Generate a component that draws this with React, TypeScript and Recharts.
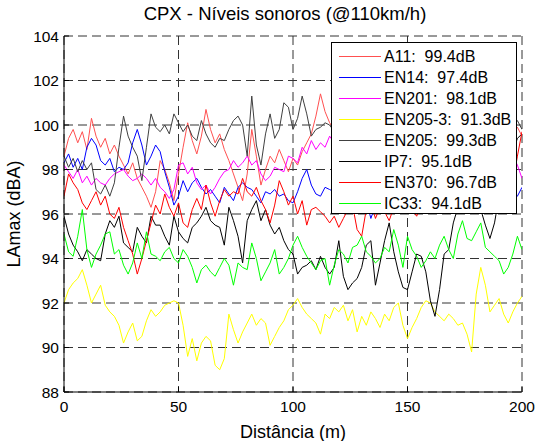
import React from 'react';
import { LineChart, Line, XAxis, YAxis, CartesianGrid, Legend, Label } from 'recharts';

// Distance along the track (m), one reading every 2 m
const distance: number[] = Array.from({ length: 101 }, (_, i) => i * 2);

const seriesNames = ['A11', 'EN14', 'EN201', 'EN205-3', 'EN205', 'IP7', 'EN370', 'IC33'];
const legendLevels = ['99.4', '97.4', '98.1', '91.3', '99.3', '95.1', '96.7', '94.1'];
const seriesColors = ['#ff5050', '#0000ff', '#ff00ff', '#ffff00', '#404040', '#000000', '#ff0000', '#00ff00'];

const xTicks = [0, 50, 100, 150, 200];
const yTicks = [88, 90, 92, 94, 96, 98, 100, 102, 104];

const a11 = [
  98.6, 99.4, 99.8, 99.2, 99.7, 98.9, 100.3, 99.5, 99.0, 99.4,
  98.7, 99.1, 98.6, 98.2, 97.8, 98.3, 97.6, 97.2, 96.8, 96.3,
  97.0, 98.4, 98.0, 97.4, 96.6, 97.8, 99.0, 100.1, 99.3, 98.7,
  99.5, 100.7, 99.8, 99.2, 99.6, 98.9, 98.4, 97.8, 97.2, 96.6,
  97.8, 99.8, 98.6, 97.3, 98.0, 98.6, 98.3, 98.9, 98.4, 97.9,
  98.5, 98.2, 98.8, 99.2, 99.6, 100.4, 101.4, 100.6, 100.1, 99.8,
  99.3, 98.9, 99.4, 98.7, 99.1, 99.6, 98.8, 98.4, 99.0, 99.5,
  99.2, 98.6, 98.9, 99.3, 98.8, 99.4, 99.0, 98.5, 98.9, 99.3,
  99.7, 99.1, 98.7, 99.2, 98.9, 99.4, 99.0, 98.6, 99.1, 99.5,
  99.2, 98.8, 99.3, 99.6, 99.1, 98.7, 99.0, 99.4, 99.6, 99.9,
  99.5,
];

const en14 = [
  98.3, 98.7, 98.1, 98.5, 98.0, 99.0, 99.4, 99.1, 98.4, 98.2,
  98.5, 97.9, 98.1, 98.0, 98.3, 99.2, 99.8, 99.1, 98.2, 98.6,
  99.1, 98.8, 97.9, 97.2, 96.4, 96.8, 97.5, 97.0, 97.4, 97.6,
  97.2, 96.9, 97.1, 96.8, 96.5, 97.2, 96.9, 96.6, 97.2, 97.4,
  97.2, 97.1, 96.8, 96.5, 97.0, 96.9, 97.1, 96.8, 96.9, 96.6,
  96.5, 97.0, 97.6, 98.0, 97.3, 96.9, 96.8, 97.2, 97.1, 97.0,
  96.7, 97.2, 96.9, 96.5, 96.8, 97.3, 96.6, 95.8, 96.4, 96.9,
  97.2, 96.8, 97.4, 97.1, 96.7, 97.0, 97.5, 97.2, 96.8, 97.1,
  96.9, 97.3, 97.0, 96.6, 96.9, 97.4, 97.1, 96.8, 97.2, 96.9,
  97.3, 97.0, 96.7, 97.1, 97.5, 97.2, 96.9, 97.3, 97.0, 96.8,
  97.2,
];

const en201 = [
  98.2, 97.9, 97.6, 98.0, 97.4, 97.7, 97.3, 97.6, 97.4, 97.3,
  97.6, 97.8, 97.9, 98.0, 97.7, 97.5, 97.6, 97.8, 97.6, 97.3,
  97.6, 97.2, 97.0, 96.7, 97.1, 98.2, 98.3, 97.8, 98.1, 97.4,
  97.1, 97.3, 96.9, 97.2, 97.6, 97.9, 98.0, 98.4, 98.1, 98.3,
  98.6, 98.2, 98.4, 97.8, 97.5, 97.7, 98.1, 98.0, 97.9, 98.6,
  98.5, 98.3, 99.0, 98.7, 99.3, 98.9, 99.2, 99.0, 99.5, 99.2,
  98.8, 99.1, 98.6, 98.9, 99.3, 98.7, 98.4, 98.8, 99.0, 98.6,
  98.3, 98.7, 99.0, 98.5, 98.8, 98.4, 98.1, 98.6, 98.9, 98.5,
  98.2, 98.6, 98.3, 98.7, 98.9, 98.4, 98.0, 98.5, 98.8, 98.3,
  98.6, 98.2, 98.5, 98.9, 98.4, 98.1, 98.7, 98.3, 98.6, 98.2,
  97.6,
];

const en2053 = [
  92.0, 92.6, 92.9, 93.1, 93.5, 92.8, 92.0, 92.4, 92.8, 91.9,
  91.6, 91.4, 91.0, 90.2, 90.7, 91.1, 90.3, 90.5, 91.2, 91.7,
  91.4, 91.6, 91.9, 92.0, 92.1, 92.0, 91.0, 89.6, 90.4, 89.4,
  90.2, 90.5, 90.3, 89.2, 89.0, 89.5, 91.5, 90.8, 90.2, 90.7,
  91.1, 91.5, 91.0, 91.3, 91.1, 90.1, 90.5, 90.9, 91.2, 91.7,
  91.9, 92.2, 91.8, 91.5, 91.3, 91.1, 90.6, 91.5, 91.3, 91.8,
  91.6, 91.9, 91.2, 91.7, 90.7, 91.4, 91.0, 91.6, 91.3, 90.9,
  91.5, 91.2, 91.8, 92.0, 91.0, 90.4, 90.9, 91.3, 91.8, 92.1,
  92.0, 91.6, 91.4, 91.2, 91.5, 91.3, 91.0, 91.1, 90.6, 89.8,
  92.4, 93.6, 92.8, 91.6, 91.9, 92.2, 91.5, 91.1, 91.6, 92.0,
  92.3,
];

const en205 = [
  98.6, 98.1, 98.5, 97.9, 98.4, 98.0, 98.3, 97.1, 96.9, 97.3,
  96.8, 97.4, 99.0, 100.4, 99.5, 99.0, 98.6, 97.5, 99.0, 100.5,
  99.9, 99.7, 100.0, 99.6, 100.5, 100.1, 99.7, 100.0, 99.5, 99.3,
  100.2, 99.6, 99.2, 99.0, 99.4, 99.3, 99.8, 100.2, 100.4, 100.0,
  98.6, 101.3, 99.1, 98.2, 99.6, 100.5, 99.4, 99.8, 101.0, 100.8,
  99.8, 100.3, 101.3, 100.5, 99.5, 99.8, 99.9, 100.1, 100.0, 99.7,
  100.2, 99.8, 99.4, 99.9, 100.3, 99.6, 99.2, 99.7, 100.1, 99.8,
  99.4, 99.9, 100.4, 100.0, 99.6, 99.3, 99.8, 100.2, 99.7, 99.5,
  99.9, 100.3, 99.8, 99.4, 99.7, 100.1, 99.6, 99.2, 99.8, 100.0,
  99.5, 99.9, 100.2, 99.7, 99.4, 99.8, 100.1, 99.6, 99.9, 100.2,
  99.8,
];

const ip7 = [
  95.9, 95.1, 94.6, 94.3, 93.9, 94.4, 94.2, 94.0, 93.9, 95.1,
  95.7, 95.4, 95.9, 94.7, 94.5, 94.3, 95.4, 95.0, 94.7, 95.9,
  95.5, 95.5, 95.0, 94.6, 95.9, 95.2, 94.9, 94.7, 95.4, 95.6,
  95.9, 96.3, 95.7, 95.5, 95.4, 94.6, 96.3, 95.7, 95.0, 93.8,
  95.7, 96.2, 96.6, 95.7, 96.2, 95.5, 95.1, 95.4, 94.8, 94.4,
  94.2, 93.3, 93.6, 93.7, 93.9, 93.5, 94.1, 93.6, 93.3, 93.6,
  94.8, 93.2, 92.6, 92.9, 93.1, 93.6, 94.6, 94.8, 92.8, 93.8,
  94.8, 95.6, 94.3, 93.4, 92.7, 92.6, 93.4, 94.2, 94.1, 93.4,
  92.1, 91.4, 92.6, 94.2, 94.4, 95.6, 96.3, 97.0, 97.5, 97.0,
  96.6, 96.2, 95.5, 94.9, 95.6, 96.8, 97.4, 98.2, 98.8, 99.4,
  99.6,
];

const en370 = [
  96.8, 97.8, 97.4, 97.1, 96.5, 96.2, 96.6, 97.0, 96.4, 96.8,
  96.0, 95.8, 96.3, 95.4, 94.8, 94.2, 93.3, 94.0, 94.8, 95.6,
  96.4, 96.0, 96.9, 96.3, 95.9, 96.5, 95.6, 95.4, 96.2, 96.7,
  96.2, 97.3, 96.5, 95.9, 96.6, 97.1, 96.8, 97.0, 96.9, 97.6,
  97.0, 96.8, 97.2, 96.6, 96.2, 95.6, 96.4, 97.5, 97.0, 96.4,
  96.8, 96.0, 96.6, 95.5, 96.2, 96.3, 96.1, 95.9, 95.6, 95.9,
  95.4, 95.8, 96.2, 96.4, 95.3, 95.0, 96.2, 96.5, 95.8, 96.3,
  96.1, 95.7, 96.3, 96.8, 97.2, 96.5, 96.2, 95.9, 96.4, 96.9,
  97.2, 96.8, 97.4, 97.0, 96.6, 97.1, 97.5, 97.2, 96.9, 97.3,
  97.6, 97.1, 96.8, 97.2, 97.5, 97.0, 96.7, 97.4, 97.4, 98.6,
  99.7,
];

const ic33 = [
  95.1, 94.3, 94.1, 95.0, 96.2, 94.4, 93.6, 94.2, 94.6, 95.1,
  95.2, 94.2, 94.4, 93.7, 93.3, 93.8, 94.7, 94.0, 95.2, 94.2,
  94.1, 93.9, 94.3, 94.5, 94.0, 93.8, 94.4, 94.1, 93.6, 92.9,
  93.5, 93.7, 93.4, 93.2, 93.6, 94.0, 93.7, 92.8, 93.8, 93.6,
  93.5, 94.7, 94.0, 93.0, 93.4, 93.8, 94.4, 93.3, 93.6, 94.0,
  94.6, 95.0, 94.5, 94.1, 93.8, 93.5, 93.9, 94.0, 92.8, 93.7,
  94.4, 94.2, 93.8, 94.5, 94.6, 95.0, 94.3, 94.1, 93.8, 94.0,
  94.5, 94.3, 95.3, 94.6, 93.6, 95.0, 94.4, 94.1, 93.6, 93.9,
  94.3, 94.0, 94.6, 95.0, 94.4, 94.0, 95.1, 95.7, 94.9, 94.8,
  95.2, 95.6, 94.5, 94.3, 94.1, 93.9, 93.3, 93.6, 94.2, 95.0,
  94.4,
];

const seriesValues = [a11, en14, en201, en2053, en205, ip7, en370, ic33];

const data = distance.map((d, i) => {
  const row: Record<string, number> = { d };
  seriesNames.forEach((n, k) => {
    row[n] = seriesValues[k][i];
  });
  return row;
});

const FONT = '"Liberation Sans", Arial, Helvetica, sans-serif';

const renderLegend = (props: any) => {
  const payload: any[] = props.payload || [];
  const byKey: Record<string, any> = {};
  payload.forEach((p) => {
    byKey[String(p.dataKey)] = p;
  });
  return (
    <div
      style={{
        width: 186,
        height: 172,
        boxSizing: 'border-box',
        border: '1px solid #000',
        background: '#fff',
        padding: '3px 0 0 7px',
        fontFamily: FONT,
        fontSize: 16,
        color: '#000',
      }}
    >
      {seriesNames.map((n, k) => {
        const p = byKey[n];
        const label = p ? p.value : `${n}:  ${legendLevels[k]}dB`;
        return (
          <div key={n} style={{ display: 'flex', alignItems: 'center', height: 21 }}>
            <div style={{ width: 42, height: 1, background: seriesColors[k], marginRight: 3 }} />
            <span style={{ whiteSpace: 'pre', lineHeight: '21px' }}>{label}</span>
          </div>
        );
      })}
    </div>
  );
};

export default function App() {
  return (
    <div style={{ position: 'absolute', left: 0, top: 0, width: 539, height: 441, background: '#fff' }}>
      <div
        style={{
          position: 'absolute',
          left: 0,
          top: 3,
          width: 570,
          textAlign: 'center',
          fontFamily: FONT,
          fontSize: 18.5,
          color: '#000',
          zIndex: 2,
        }}
      >
        CPX - Níveis sonoros (@110km/h)
      </div>
      <LineChart
        width={539}
        height={441}
        data={data}
        margin={{ top: 36, right: 17, bottom: 3, left: 0 }}
      >
        <CartesianGrid stroke="#333" strokeDasharray="9 5" strokeWidth={1} />
        <XAxis
          dataKey="d"
          type="number"
          domain={[0, 200]}
          ticks={xTicks}
          allowDataOverflow
          height={46}
          tickSize={-5}
          tickMargin={14}
          stroke="#000"
          tick={{ fill: '#000', fontSize: 15.5, fontFamily: FONT }}
        >
          <Label value="Distância (m)" position="insideBottom" offset={0} style={{ fill: '#000', fontSize: 18, fontFamily: FONT }} />
        </XAxis>
        <XAxis
          xAxisId="top"
          orientation="top"
          dataKey="d"
          type="number"
          domain={[0, 200]}
          ticks={xTicks}
          allowDataOverflow
          height={0}
          tickSize={-5}
          tick={false}
          axisLine={false}
          stroke="#000"
        />
        <YAxis
          type="number"
          domain={[88, 104]}
          ticks={yTicks}
          allowDataOverflow
          width={64}
          tickSize={-5}
          tickMargin={10}
          stroke="#000"
          tick={{ fill: '#000', fontSize: 15.5, fontFamily: FONT }}
        >
          <Label
            value="LAmax (dBA)"
            angle={-90}
            position="insideLeft"
            offset={14}
            style={{ textAnchor: 'middle', fill: '#000', fontSize: 18, fontFamily: FONT }}
          />
        </YAxis>
        <YAxis
          yAxisId="right"
          orientation="right"
          type="number"
          domain={[88, 104]}
          ticks={yTicks}
          allowDataOverflow
          width={0}
          tickSize={-5}
          tick={false}
          axisLine={false}
          stroke="#000"
        />
        {seriesNames.map((n, k) => (
          <Line
            key={n}
            dataKey={n}
            name={`${n}:  ${legendLevels[k]}dB`}
            stroke={seriesColors[k]}
            strokeWidth={1}
            dot={false}
            type="linear"
            isAnimationActive={false}
          />
        ))}
        <Legend
          layout="vertical"
          align="center"
          verticalAlign="middle"
          content={renderLegend}
          wrapperStyle={{ left: 331, top: 42, width: 186, height: 172 }}
        />
      </LineChart>
    </div>
  );
}
